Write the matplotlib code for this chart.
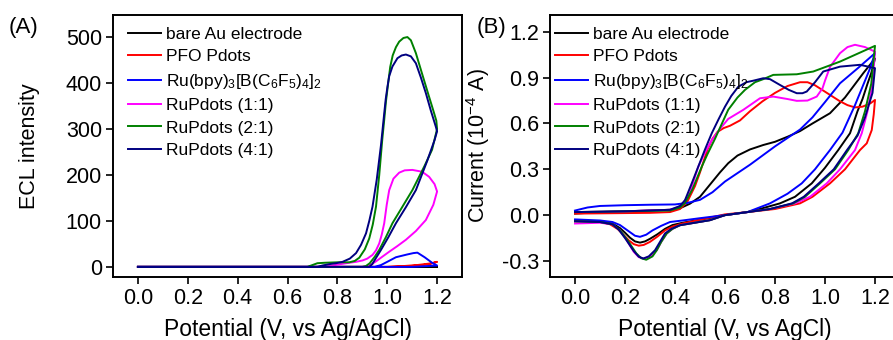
import numpy as np
import matplotlib
matplotlib.use("Agg")
import matplotlib.pyplot as plt

plt.rcParams['font.family'] = ['Liberation Sans', 'DejaVu Sans']
plt.rcParams['mathtext.fontset'] = 'custom'
plt.rcParams['mathtext.rm'] = 'Liberation Sans'
plt.rcParams['mathtext.it'] = 'Liberation Sans:italic'
plt.rcParams['mathtext.default'] = 'regular'
plt.rcParams['axes.unicode_minus'] = False

labels = ['bare Au electrode', 'PFO Pdots', 'Ru(bpy)$_3$[B(C$_6$F$_5$)$_4$]$_2$',
          'RuPdots (1:1)', 'RuPdots (2:1)', 'RuPdots (4:1)']
colors = ['black', '#FF0000', '#0000FF', '#FF00FF', '#008000', '#000080']

# (A) ECL intensity vs potential, scan 0 -> 1.2 -> 0 V
ecl_au_v = [0.0, 1.2, 0.0]
ecl_au_i = [0, 0, 0]
ecl_pfo_v = [0.0, 1.0, 1.075, 1.12, 1.16, 1.2, 1.18, 1.12, 1.07, 1.0, 0.0]
ecl_pfo_i = [0, 0, 1, 3, 5, 11, 8, 4, 2, 0, 0]
ecl_ru_v = [0.0, 0.95, 0.975, 1.0, 1.035, 1.08, 1.105, 1.121, 1.15, 1.18, 1.2, 1.1, 0.0]
ecl_ru_i = [0, 0, 4, 11, 21, 27, 30, 31, 21, 9, 3, 0, 0]
ecl_11_v = [0.0, 0.9, 0.915, 0.935, 0.955, 0.98, 1.008, 1.04, 1.075, 1.115, 1.155, 1.185, 1.2,
            1.19, 1.168, 1.14, 1.101, 1.07, 1.048, 1.025, 1.008, 0.998, 0.988, 0.978, 0.968,
            0.955, 0.941, 0.92, 0.901, 0.875, 0.848, 0.8, 0.75, 0.0]
ecl_11_i = [0, 0, 1, 5, 12, 22, 33, 45, 59, 78, 102, 135, 164,
            180, 196, 207, 211, 210, 205, 192, 167, 135, 95, 70, 51,
            36, 26, 18, 14, 11, 9, 5, 0, 0]
ecl_21_v = [0.0, 0.9, 0.915, 0.93, 0.95, 0.968, 0.995, 1.021, 1.06, 1.101, 1.15, 1.18, 1.2,
            1.197, 1.185, 1.168, 1.14, 1.115, 1.095, 1.081, 1.065, 1.048, 1.035, 1.022,
            1.012, 1.005, 0.995, 0.988, 0.98, 0.968, 0.955, 0.942, 0.928, 0.91, 0.888,
            0.87, 0.848, 0.8, 0.75, 0.72, 0.7, 0.68, 0.0]
ecl_21_i = [0, 0, 2, 8, 22, 37, 65, 95, 130, 167, 220, 255, 300,
            318, 340, 370, 420, 465, 493, 500, 498, 490, 478, 460,
            435, 405, 360, 320, 276, 200, 131, 92, 62, 38, 20,
            13, 10, 10, 9, 8, 4, 0, 0]
ecl_41_v = [0.0, 0.928, 0.94, 0.95, 0.975, 1.005, 1.035, 1.075, 1.115, 1.16, 1.19, 1.2,
            1.195, 1.175, 1.155, 1.135, 1.115, 1.095, 1.075, 1.058, 1.041, 1.021, 1.008,
            1.001, 0.994, 0.988, 0.975, 0.958, 0.941, 0.928, 0.915, 0.895, 0.875, 0.85,
            0.821, 0.795, 0.768, 0.74, 0.72, 0.0]
ecl_41_i = [0, 0, 6, 15, 37, 65, 95, 130, 167, 230, 276, 295,
            305, 340, 378, 412, 443, 458, 462, 460, 454, 436, 415,
            392, 365, 334, 265, 190, 131, 100, 73, 48, 30, 18,
            11, 8, 6, 3, 0, 0]

# (B) CV current (10^-4 A) vs potential
cv_au_v = [0.0, 0.1, 0.2, 0.3, 0.38, 0.42, 0.46, 0.5, 0.533, 0.58, 0.613, 0.65, 0.7, 0.753, 0.8,
           0.853, 0.9, 0.95, 1.02, 1.08, 1.153, 1.2,
           1.185, 1.17, 1.15, 1.13, 1.1, 1.053, 1.0, 0.947, 0.88, 0.82, 0.75, 0.69, 0.6, 0.5,
           0.43, 0.39, 0.36, 0.33, 0.3, 0.28, 0.26, 0.24, 0.22, 0.2, 0.18, 0.15, 0.1, 0.05, 0.0]
cv_au_i = [0.01, 0.02, 0.025, 0.03, 0.035, 0.045, 0.075, 0.12, 0.186, 0.28, 0.34, 0.39, 0.43, 0.459, 0.48,
           0.515, 0.55, 0.6, 0.667, 0.77, 0.929, 1.025,
           0.93, 0.86, 0.76, 0.68, 0.536, 0.426, 0.31, 0.208, 0.12, 0.077, 0.045, 0.02, 0.0, -0.03,
           -0.05, -0.065, -0.09, -0.125, -0.155, -0.172, -0.18, -0.172, -0.148, -0.115, -0.085, -0.055, -0.042, -0.04, -0.04]
cv_pfo_v = [0.0, 0.3, 0.38, 0.42, 0.45, 0.48, 0.5, 0.53, 0.55, 0.57, 0.595, 0.62, 0.66, 0.7, 0.75, 0.8,
            0.85, 0.9, 0.93, 0.96, 1.02, 1.06, 1.09, 1.12, 1.15, 1.18, 1.2,
            1.195, 1.187, 1.167, 1.14, 1.08, 1.02, 0.95, 0.9, 0.8, 0.69, 0.6, 0.5,
            0.43, 0.39, 0.36, 0.33, 0.3, 0.275, 0.255, 0.235, 0.215, 0.195, 0.17, 0.14, 0.1, 0.05, 0.0]
cv_pfo_i = [0.01, 0.015, 0.02, 0.04, 0.09, 0.19, 0.28, 0.43, 0.5, 0.545, 0.57, 0.585, 0.62, 0.68, 0.745, 0.8,
            0.845, 0.87, 0.87, 0.85, 0.787, 0.745, 0.72, 0.705, 0.71, 0.73, 0.754,
            0.66, 0.557, 0.47, 0.426, 0.3, 0.208, 0.12, 0.077, 0.04, 0.02, 0.005, -0.03,
            -0.055, -0.075, -0.1, -0.14, -0.175, -0.195, -0.2, -0.19, -0.165, -0.13, -0.09, -0.06, -0.045, -0.04, -0.04]
cv_ru_v = [0.0, 0.05, 0.1, 0.2, 0.3, 0.4, 0.45, 0.5, 0.55, 0.6, 0.65, 0.7, 0.75, 0.8, 0.85, 0.9, 0.95,
           1.0, 1.06, 1.13, 1.2,
           1.18, 1.16, 1.12, 1.07, 1.02, 0.96, 0.907, 0.85, 0.78, 0.69, 0.6, 0.5, 0.43, 0.38,
           0.345, 0.31, 0.285, 0.26, 0.24, 0.21, 0.18, 0.15, 0.1, 0.0]
cv_ru_i = [0.03, 0.05, 0.06, 0.065, 0.068, 0.07, 0.08, 0.1, 0.15, 0.22, 0.275, 0.33, 0.39, 0.45, 0.505,
           0.56, 0.64, 0.74, 0.863, 0.96, 1.06,
           0.96, 0.88, 0.72, 0.54, 0.426, 0.3, 0.208, 0.14, 0.077, 0.02, 0.0, -0.02, -0.035, -0.045,
           -0.07, -0.1, -0.128, -0.142, -0.135, -0.1, -0.065, -0.045, -0.035, -0.028]
cv_11_v = [0.0, 0.2, 0.38, 0.41, 0.43, 0.46, 0.493, 0.52, 0.547, 0.58, 0.613, 0.673, 0.74, 0.793, 0.85,
           0.887, 0.93, 0.967, 0.99, 1.0, 1.02, 1.06, 1.09, 1.12, 1.16, 1.2,
           1.19, 1.17, 1.147, 1.12, 1.06, 1.007, 0.94, 0.88, 0.78, 0.69, 0.6, 0.54, 0.42, 0.39, 0.367,
           0.345, 0.327, 0.3, 0.275, 0.255, 0.235, 0.207, 0.18, 0.15, 0.1, 0.0]
cv_11_i = [0.02, 0.025, 0.035, 0.05, 0.07, 0.15, 0.317, 0.41, 0.49, 0.565, 0.63, 0.689, 0.765, 0.776, 0.76,
           0.748, 0.75, 0.776, 0.83, 0.88, 0.97, 1.06, 1.1, 1.115, 1.1, 1.07,
           0.86, 0.68, 0.536, 0.426, 0.3, 0.208, 0.12, 0.077, 0.04, 0.02, 0.0, -0.033, -0.066, -0.09, -0.12,
           -0.175, -0.23, -0.272, -0.285, -0.275, -0.24, -0.164, -0.1, -0.06, -0.05, -0.055]
cv_21_v = [0.0, 0.2, 0.38, 0.42, 0.44, 0.47, 0.507, 0.53, 0.56, 0.585, 0.613, 0.65, 0.68, 0.72, 0.753,
           0.793, 0.84, 0.887, 0.953, 1.06, 1.2,
           1.185, 1.16, 1.133, 1.093, 1.04, 0.98, 0.92, 0.873, 0.78, 0.69, 0.6, 0.54, 0.42, 0.39, 0.367,
           0.345, 0.327, 0.31, 0.285, 0.265, 0.245, 0.21, 0.18, 0.15, 0.1, 0.0]
cv_21_i = [0.02, 0.025, 0.03, 0.05, 0.08, 0.17, 0.317, 0.4, 0.5, 0.59, 0.69, 0.77, 0.82, 0.87, 0.89,
           0.918, 0.92, 0.922, 0.94, 1.005, 1.108,
           0.86, 0.68, 0.536, 0.426, 0.3, 0.208, 0.12, 0.077, 0.04, 0.02, 0.0, -0.033, -0.066, -0.09, -0.12,
           -0.175, -0.23, -0.27, -0.292, -0.282, -0.25, -0.164, -0.1, -0.06, -0.045, -0.04]
cv_41_v = [0.0, 0.2, 0.38, 0.42, 0.44, 0.465, 0.493, 0.52, 0.547, 0.575, 0.6, 0.625, 0.653, 0.685, 0.713,
           0.753, 0.78, 0.82, 0.855, 0.887, 0.91, 0.927, 0.96, 0.993, 1.06, 1.14, 1.2,
           1.19, 1.16, 1.13, 1.088, 1.035, 0.975, 0.915, 0.868, 0.78, 0.69, 0.6, 0.54, 0.42, 0.385, 0.36,
           0.34, 0.32, 0.295, 0.273, 0.255, 0.235, 0.2, 0.175, 0.15, 0.1, 0.0]
cv_41_i = [0.02, 0.025, 0.035, 0.06, 0.098, 0.2, 0.317, 0.43, 0.536, 0.63, 0.71, 0.78, 0.84, 0.87, 0.88,
           0.896, 0.89, 0.852, 0.82, 0.798, 0.798, 0.809, 0.87, 0.94, 0.972, 0.984, 0.962,
           0.8, 0.64, 0.52, 0.426, 0.3, 0.208, 0.12, 0.077, 0.04, 0.02, 0.0, -0.033, -0.066, -0.09, -0.12,
           -0.175, -0.23, -0.27, -0.284, -0.272, -0.235, -0.15, -0.095, -0.06, -0.045, -0.04]

ecl_v = [ecl_au_v, ecl_pfo_v, ecl_ru_v, ecl_11_v, ecl_21_v, ecl_41_v]
ecl_i = [ecl_au_i, ecl_pfo_i, ecl_ru_i, ecl_11_i, ecl_21_i, ecl_41_i]
cv_v = [cv_au_v, cv_pfo_v, cv_ru_v, cv_11_v, cv_21_v, cv_41_v]
cv_i = [cv_au_i, cv_pfo_i, cv_ru_i, cv_11_i, cv_21_i, cv_41_i]

fig = plt.figure(figsize=(8.93, 3.4), dpi=100)
axA = fig.add_axes([113/893, 63/340, 349/893, 262/340])
axB = fig.add_axes([550/893, 63/340, 350/893, 262/340])

for ax in (axA, axB):
    for s in ax.spines.values():
        s.set_linewidth(1.4)
    ax.tick_params(direction='out', length=5, width=1.2, labelsize=15.5, pad=3)
    ax.set_xlim(-0.1, 1.3)
    ax.set_xticks(np.arange(0, 1.21, 0.2))
    ax.set_xticklabels(['0.0', '0.2', '0.4', '0.6', '0.8', '1.0', '1.2'])

for v, i, c, lab in zip(ecl_v, ecl_i, colors, labels):
    axA.plot(v, i, color=c, lw=1.4, label=lab)
axA.set_ylim(-22, 548)
axA.set_yticks([0, 100, 200, 300, 400, 500])
axA.set_ylabel('ECL intensity', fontsize=15.5)
axA.set_xlabel('Potential (V, vs Ag/AgCl)', fontsize=16.5)
axA.yaxis.set_label_coords(-0.21, 0.5)
axA.xaxis.set_label_coords(0.5, -0.155)

for v, i, c, lab in zip(cv_v, cv_i, colors, labels):
    axB.plot(v, i, color=c, lw=1.4, label=lab)
axB.set_ylim(-0.405, 1.31)
axB.set_yticks([-0.3, 0.0, 0.3, 0.6, 0.9, 1.2])
axB.set_yticklabels(['-0.3', '0.0', '0.3', '0.6', '0.9', '1.2'])
axB.set_ylabel('Current (10$^{-4}$ A)', fontsize=15.5)
axB.set_xlabel('Potential (V, vs AgCl)', fontsize=16.5)
axB.yaxis.set_label_coords(-0.165, 0.5)
axB.xaxis.set_label_coords(0.5, -0.155)

axA.legend(loc='upper left', bbox_to_anchor=(0.029, 0.975), frameon=False, fontsize=12.5,
           handlelength=1.9, handletextpad=0.25, labelspacing=0.42, borderaxespad=0, borderpad=0.3)
axB.legend(loc='upper left', bbox_to_anchor=(0.0, 0.975), frameon=False, fontsize=12.5,
           handlelength=1.9, handletextpad=0.25, labelspacing=0.42, borderaxespad=0, borderpad=0.3)

fig.text(24/893, 1 - 27/340, '(A)', fontsize=16, ha='center', va='center')
fig.text(491/893, 1 - 27/340, '(B)', fontsize=16, ha='center', va='center')

fig.savefig('out.png', dpi=100)
